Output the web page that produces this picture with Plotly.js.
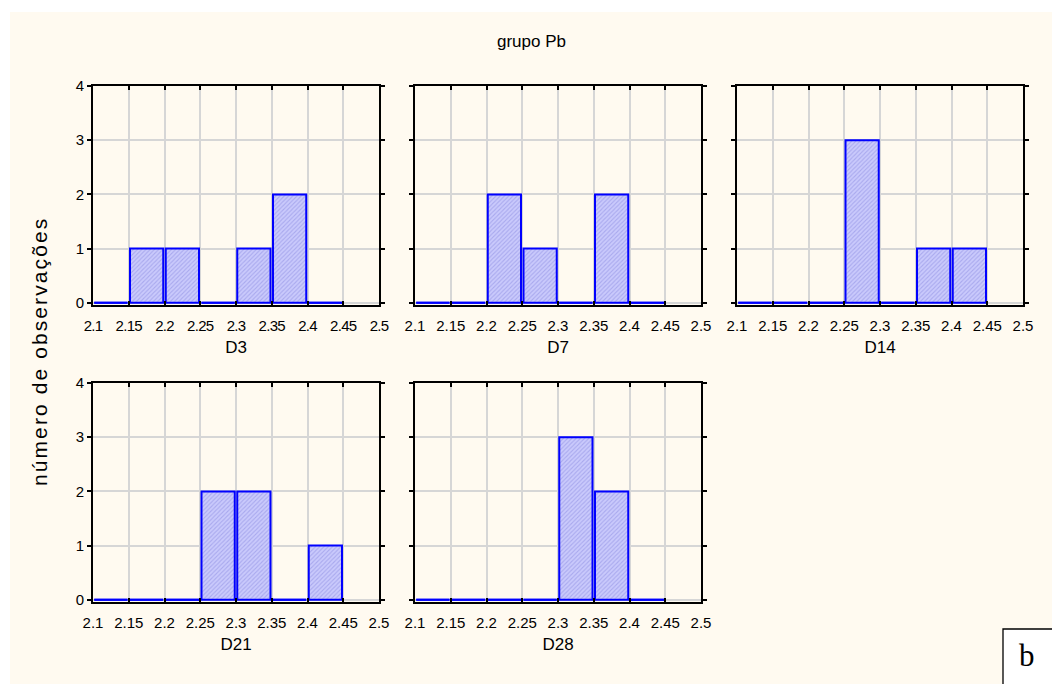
<!DOCTYPE html>
<html>
<head>
<meta charset="utf-8">
<script src="https://cdn.plot.ly/plotly-3.0.1.min.js"></script>
<style>
html,body{margin:0;padding:0;background:#fff;}
#chart{width:1052px;height:684px;}
g.annotation[data-index="1"] text{letter-spacing:2.1px;}
.xtick text{letter-spacing:-0.7px;}
</style>
</head>
<body>
<div id="chart"></div>
<script>
// ---- data ----
const binLefts = [2.10, 2.15, 2.20, 2.25, 2.30, 2.35, 2.40];
const binWidth = 0.05;
const panelNames = ["D3", "D7", "D14", "D21", "D28"];
const countsD3  = [0, 1, 1, 0, 1, 2, 0];
const countsD7  = [0, 0, 2, 1, 0, 2, 0];
const countsD14 = [0, 0, 0, 3, 0, 1, 1];
const countsD21 = [0, 0, 0, 2, 2, 0, 1];
const countsD28 = [0, 0, 0, 0, 3, 2, 0];
const xTickVals = [2.1, 2.15, 2.2, 2.25, 2.3, 2.35, 2.4, 2.45, 2.5];
const xTickText = ["2.1", "2.15", "2.2", "2.25", "2.3", "2.35", "2.4", "2.45", "2.5"];
const yTickVals = [0, 1, 2, 3, 4];
const chartTitle = "grupo Pb";
const yTitle = "número de observações";
const cornerLabel = "b";

const allCounts = [countsD3, countsD7, countsD14, countsD21, countsD28];
const bargap = 0.07;
const font = "Liberation Sans, Arial, sans-serif";

// panel geometry (paper px)
const W = 1052, H = 684;
const colX = [[93, 379], [415, 701], [737, 1023]];
const rowY = [[86, 305], [383, 602]];

const traces = [];
const layout = {
  width: W, height: H,
  margin: {l: 0, r: 0, t: 0, b: 0},
  paper_bgcolor: "#ffffff",
  plot_bgcolor: "#ffffff",
  showlegend: false,
  bargap: bargap,
  font: {family: font, color: "#000", size: 14},
  shapes: [
    {type: "rect", xref: "paper", yref: "paper", x0: 10/W, x1: 1, y0: 0, y1: 1 - 12/H,
     fillcolor: "#fffaf0", line: {width: 0}, layer: "below"},
    {type: "rect", xref: "paper", yref: "paper", x0: 1003/W, x1: 1.01, y0: -0.01, y1: 1 - 629/H,
     fillcolor: "#ffffff", line: {color: "#000", width: 1.3}, layer: "above"}
  ],
  annotations: [
    {text: chartTitle, xref: "paper", yref: "paper", x: 531/W, y: 1 - 42/H,
     xanchor: "center", yanchor: "middle",
     showarrow: false, font: {family: font, size: 17, color: "#000"}},
    {text: yTitle, xref: "paper", yref: "paper", x: 39/W, y: 1 - 352/H, textangle: -90,
     xanchor: "center", yanchor: "middle",
     showarrow: false, font: {family: font, size: 21, color: "#000"}},
    {text: cornerLabel, xref: "paper", yref: "paper", x: 1027/W, y: 1 - 655/H,
     xanchor: "center", yanchor: "middle",
     showarrow: false, font: {family: "Liberation Serif, Times New Roman, serif", size: 31, color: "#000"}}
  ]
};

allCounts.forEach((counts, i) => {
  const idx = i + 1;
  const xa = "xaxis" + (idx === 1 ? "" : idx);
  const ya = "yaxis" + (idx === 1 ? "" : idx);
  const xr = "x" + (idx === 1 ? "" : idx);
  const yr = "y" + (idx === 1 ? "" : idx);
  const col = i % 3, row = Math.floor(i / 3);
  const centers = binLefts.map(b => b + binWidth / 2);

  traces.push({
    type: "bar", x: centers, y: counts, xaxis: xr, yaxis: yr,
    marker: {
      color: "#c6c6fb",
      line: {color: "#0000ff", width: 2},
      pattern: {shape: "/", fgcolor: "#a9a9ee", bgcolor: "#cacafc", size: 3, solidity: 0.35}
    },
    hoverinfo: "skip"
  });

  // zero-count bins are drawn as flat outlines on the baseline
  const half = binWidth * (1 - bargap) / 2;
  const zx = [], zy = [];
  counts.forEach((c, k) => {
    if (c === 0) {
      zx.push(centers[k] - half, centers[k] + half, null);
      zy.push(c, c, null);
    }
  });
  traces.push({
    type: "scatter", mode: "lines", x: zx, y: zy, xaxis: xr, yaxis: yr,
    line: {color: "#0000ff", width: 2}, cliponaxis: false, hoverinfo: "skip"
  });

  layout[xa] = {
    domain: [colX[col][0] / W, colX[col][1] / W],
    anchor: yr,
    range: [2.1, 2.5],
    tickvals: xTickVals, ticktext: xTickText,
    ticks: "inside", ticklen: 4, tickwidth: 2, tickcolor: "#000",
    showline: true, linecolor: "#000", linewidth: 2, mirror: "ticks",
    showgrid: true, gridcolor: "#d6d6d6", gridwidth: 2,
    zeroline: false,
    ticklabelstandoff: 6,
    tickfont: {family: font, size: 15, color: "#000"},
    title: {text: panelNames[i], font: {family: font, size: 17, color: "#000"}, standoff: 8},
    fixedrange: true
  };
  layout[ya] = {
    domain: [1 - rowY[row][1] / H, 1 - rowY[row][0] / H],
    anchor: xr,
    range: [-0.04, 4],
    tickvals: yTickVals,
    showticklabels: col === 0,
    ticks: "outside", ticklen: 4, tickwidth: 2, tickcolor: "#000",
    showline: true, linecolor: "#000", linewidth: 2, mirror: "ticks",
    showgrid: true, gridcolor: "#d6d6d6", gridwidth: 2,
    zeroline: false,
    tickfont: {family: font, size: 15, color: "#000"},
    fixedrange: true
  };
});

Plotly.newPlot("chart", traces, layout, {displayModeBar: false, staticPlot: true});
</script>
</body>
</html>
